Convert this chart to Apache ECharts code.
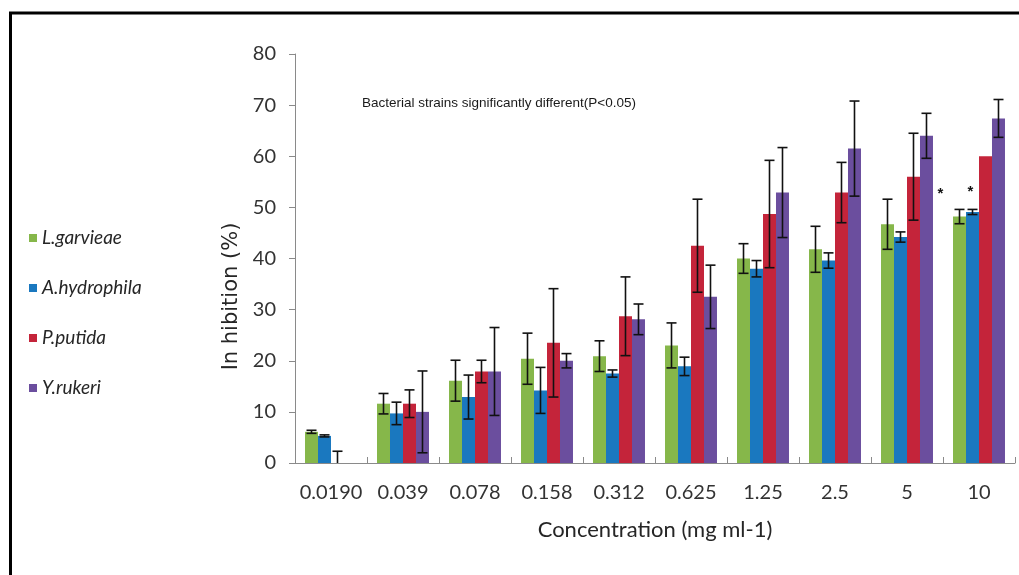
<!DOCTYPE html>
<html>
<head>
<meta charset="utf-8">
<script src="https://cdn.jsdelivr.net/npm/echarts@6/dist/echarts.min.js"></script>
<style>
html,body{margin:0;padding:0;background:#fff;}
#chart{width:1019px;height:575px;}
</style>
</head>
<body>
<div id="chart"></div>
<script>
const categories = ['0.0190','0.039','0.078','0.158','0.312','0.625','1.25','2.5','5','10'];
const seriesNames = ['L.garvieae','A.hydrophila','P.putida','Y.rukeri'];
const seriesColors = ['#86B74A','#1A78BF','#C4243A','#6B4E9E'];
const lgValues = [6.1, 11.6, 16.1, 20.4, 20.9, 23.0, 40.0, 41.8, 46.7, 48.2];
const lgErrors = [0.3, 2.0, 4.0, 5.0, 3.0, 4.4, 2.9, 4.5, 4.9, 1.4];
const ahValues = [5.3, 9.7, 12.9, 14.2, 17.5, 18.9, 38.0, 39.6, 44.2, 49.1];
const ahErrors = [0.2, 2.2, 4.3, 4.5, 0.7, 1.8, 1.6, 1.5, 1.0, 0.5];
const ppValues = [0, 11.6, 17.9, 23.5, 28.7, 42.5, 48.7, 52.9, 56.0, 60.0];
const ppErrors = [2.3, 2.7, 2.2, 10.6, 7.7, 9.1, 10.5, 5.9, 8.5, 0];
const yrValues = [null, 10.0, 17.9, 20.0, 28.1, 32.5, 52.9, 61.5, 64.0, 67.4];
const yrErrors = [null, 8.0, 8.6, 1.4, 3.0, 6.2, 8.8, 9.3, 4.4, 3.7];
const asteriskIndex = 9;
const titleText = 'Bacterial strains significantly different(P<0.05)';
const yTicks = [0, 10, 20, 30, 40, 50, 60, 70, 80];

const allValues = [lgValues, ahValues, ppValues, yrValues];
const allErrors = [lgErrors, ahErrors, ppErrors, yrErrors];
const catGap = 0.278;

const chart = echarts.init(document.getElementById('chart'));

const barSeries = allValues.map((vals, s) => ({
  name: seriesNames[s],
  type: 'bar',
  barGap: '0%',
  barCategoryGap: (catGap * 100) + '%',
  itemStyle: { color: seriesColors[s] },
  z: 2,
  data: vals.map((v, i) => {
    if (i === asteriskIndex && (s === 0 || s === 1)) {
      return {
        value: v,
        label: {
          show: true, formatter: '*', position: 'top',
          offset: s === 0 ? [-19, -10] : [-2, -8],
          fontSize: 15, fontWeight: 'bold', color: '#111', fontFamily: 'Liberation Sans'
        }
      };
    }
    return v;
  })
}));

const errSeries = allValues.map((vals, s) => ({
  name: seriesNames[s] + ' err',
  type: 'custom',
  z: 5,
  silent: true,
  data: vals.map((v, i) => [i, v, allErrors[s][i]]),
  renderItem: function (params, api) {
    const v = api.value(1), e = api.value(2);
    if (v === null || isNaN(v) || !e) return null;
    const idx = api.value(0);
    const base = api.coord([idx, 0]);
    const bandW = api.size([1, 0])[0];
    const barW = bandW * (1 - catGap) / 4;
    const cx = base[0] + (s - 1.5) * barW;
    const lo = Math.max(0, v - e);
    const yTop = api.coord([idx, v + e])[1];
    const yBot = api.coord([idx, lo])[1];
    const hw = 5;
    const st = { stroke: '#111', lineWidth: 1.6 };
    const children = [
      { type: 'line', shape: { x1: cx, y1: yTop, x2: cx, y2: yBot }, style: st },
      { type: 'line', shape: { x1: cx - hw, y1: yTop, x2: cx + hw, y2: yTop }, style: st }
    ];
    if (v - e > 0) {
      children.push({ type: 'line', shape: { x1: cx - hw, y1: yBot, x2: cx + hw, y2: yBot }, style: st });
    }
    return { type: 'group', children: children };
  }
}));

const option = {
  backgroundColor: '#fff',
  animation: false,
  title: {
    text: titleText,
    left: 362, top: 96, padding: 0,
    textStyle: { fontSize: 13.5, fontWeight: 'normal', color: '#1a1a1a', fontFamily: 'Liberation Sans' }
  },
  legend: {
    data: seriesNames,
    orient: 'vertical',
    left: 24, top: 223,
    icon: 'rect',
    itemWidth: 8, itemHeight: 8,
    itemGap: 30,
    textStyle: { fontSize: 19, fontStyle: 'italic', color: '#262626', fontFamily: 'Lato', lineHeight: 20 }
  },
  grid: { left: 295, right: 4, top: 54, bottom: 112, containLabel: false },
  xAxis: {
    type: 'category',
    data: categories,
    name: 'Concentration (mg ml-1)',
    nameLocation: 'middle',
    nameGap: 56,
    nameTextStyle: { fontSize: 22, color: '#262626', fontFamily: 'Lato' },
    axisLine: { lineStyle: { color: '#8a8a8a', width: 1 } },
    axisTick: { show: true, inside: true, length: 6, lineStyle: { color: '#8a8a8a' } },
    axisLabel: { fontSize: 20, color: '#333', fontFamily: 'Lato', margin: 20, interval: 0 },
    splitLine: { show: false }
  },
  yAxis: {
    type: 'value',
    min: yTicks[0], max: yTicks[yTicks.length - 1], interval: 10,
    name: 'In hibition (%)',
    nameLocation: 'middle',
    nameGap: 53,
    nameRotate: 90,
    nameTextStyle: { fontSize: 21, color: '#262626', fontFamily: 'DejaVu Sans', padding: [0, 76, 0, 0] },
    axisLine: { show: true, lineStyle: { color: '#8a8a8a', width: 1 } },
    axisTick: { show: true, length: 6, lineStyle: { color: '#8a8a8a' } },
    axisLabel: { fontSize: 20, color: '#333', fontFamily: 'Lato', margin: 19 },
    splitLine: { show: false }
  },
  graphic: [
    { type: 'line', shape: { x1: 9, y1: 13, x2: 1019, y2: 13 }, style: { stroke: '#000', lineWidth: 3 } },
    { type: 'line', shape: { x1: 10.5, y1: 12, x2: 10.5, y2: 575 }, style: { stroke: '#000', lineWidth: 3 } }
  ],
  series: barSeries.concat(errSeries)
};
chart.setOption(option);
</script>
</body>
</html>
